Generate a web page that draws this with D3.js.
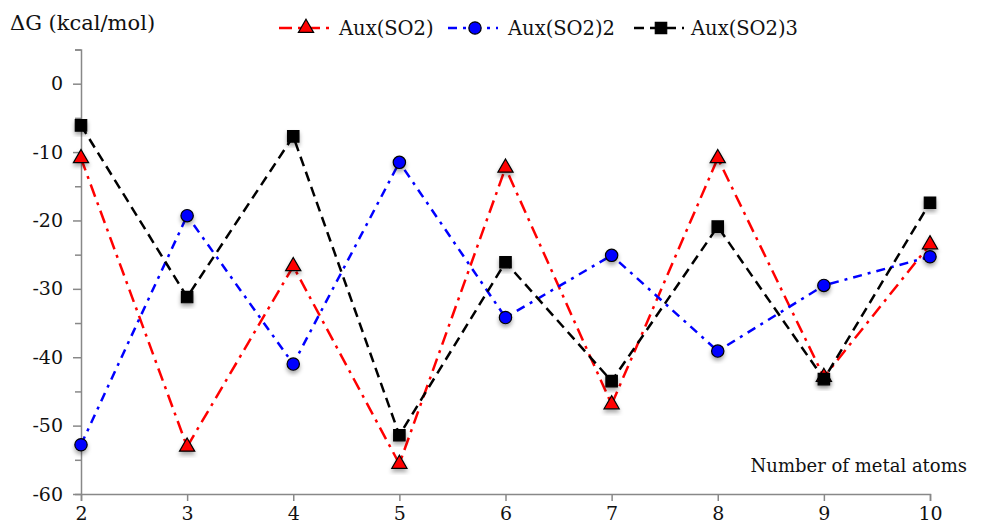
<!DOCTYPE html>
<html><head><meta charset="utf-8">
<script src="https://cdn.jsdelivr.net/npm/d3@7"></script>
<style>body{margin:0;background:#fff}svg{display:block}</style>
</head><body><svg id="c" width="984" height="525"></svg>
<script>
const atoms = [2,3,4,5,6,7,8,9,10];
const auxSO2  = [-10.9,-53.1,-26.7,-55.6,-12.3,-46.9,-10.9,-42.9,-23.5];
const auxSO22 = [-52.8,-19.3,-41.0,-11.5,-34.2,-25.1,-39.1,-29.5,-25.3];
const auxSO23 = [-6.1,-31.2,-7.7,-51.4,-26.1,-43.5,-20.9,-43.2,-17.4];
const yTicks = [0,-10,-20,-30,-40,-50,-60];
const seriesNames = ["Aux(SO2)","Aux(SO2)2","Aux(SO2)3"];

const series = [
  {name:seriesNames[0], values:auxSO2, color:"#ff0000", dash:"13,6,3,6", sym:d3.symbolTriangle, size:100},
  {name:seriesNames[1], values:auxSO22, color:"#0000ff", dash:"9,6,3,6", sym:d3.symbolCircle, size:120},
  {name:seriesNames[2], values:auxSO23, color:"#000000", dash:"10,6", sym:d3.symbolSquare, size:130}
];

const svg = d3.select("#c");
const defs = svg.append("defs");
const f = defs.append("filter").attr("id","sh").attr("x","-50%").attr("y","-50%").attr("width","200%").attr("height","200%");
f.append("feDropShadow").attr("dx",0).attr("dy",3).attr("stdDeviation",2).attr("flood-color","#000").attr("flood-opacity",0.35);

const x = d3.scaleLinear().domain([2,10]).range([81,930]);
const y = d3.scaleLinear().domain([-60,5]).range([494,49.5]);

const st = () => "font-family:'DejaVu Serif', serif;fill:#111";

// y axis
const yAxis = d3.axisLeft(y).tickValues(d3.range(-60,6,5)).tickSize(6).tickFormat(d => yTicks.includes(d) ? d : "");
const gy = svg.append("g").attr("transform","translate(81,0)").call(yAxis);
gy.select(".domain").attr("stroke","#888").attr("stroke-width",1.5);
gy.selectAll(".tick line").attr("stroke","#888").attr("stroke-width",1.5).attr("x2", d => yTicks.includes(d) ? -8 : -6);
gy.selectAll(".tick text").attr("font-size",19).attr("x",-18).attr("style",st());

// x axis
const xAxis = d3.axisBottom(x).tickValues(atoms).tickSize(7).tickFormat(d3.format("d"));
const gx = svg.append("g").attr("transform","translate(0,494)").call(xAxis);
gx.select(".domain").attr("stroke","#888").attr("stroke-width",1.5);
gx.selectAll(".tick line").attr("stroke","#888").attr("stroke-width",1.5);
gx.selectAll(".tick text").attr("font-size",19).attr("y",13).attr("style",st());

svg.append("text").attr("x",10).attr("y",30).attr("font-size",21).attr("style",st()).text("ΔG (kcal/mol)");
svg.append("text").attr("x",967).attr("y",472).attr("text-anchor","end").attr("font-size",18).attr("style",st()).text("Number of metal atoms");

const line = d3.line().x((d,i)=>x(atoms[i])).y(d=>y(d));
series.forEach(s=>{
  svg.append("path").datum(s.values).attr("d",line).attr("fill","none")
    .attr("stroke",s.color).attr("stroke-width",2.5).attr("stroke-dasharray",s.dash);
});
series.forEach(s=>{
  svg.append("g").selectAll("path").data(s.values).join("path")
    .attr("d",d3.symbol().type(s.sym).size(s.size))
    .attr("transform",(d,i)=>`translate(${x(atoms[i])},${y(d)})`)
    .attr("fill",s.color).attr("stroke","#000").attr("stroke-width",1.2)
    .attr("filter","url(#sh)");
});

// legend
const legX = [279,448,634];
series.forEach((s,i)=>{
  const g = svg.append("g").attr("transform",`translate(${legX[i]},28)`);
  g.append("line").attr("x1",0).attr("x2",50).attr("y1",0).attr("y2",0)
    .attr("stroke",s.color).attr("stroke-width",2.5).attr("stroke-dasharray",s.dash);
  g.append("path").attr("d",d3.symbol().type(s.sym).size(s.size)).attr("transform","translate(27,0)")
    .attr("fill",s.color).attr("stroke","#000").attr("stroke-width",1.2);
  g.append("text").attr("x",i==2?57:60).attr("y",7).attr("font-size",19.5).attr("style",st()).text(s.name);
});
</script></body></html>
